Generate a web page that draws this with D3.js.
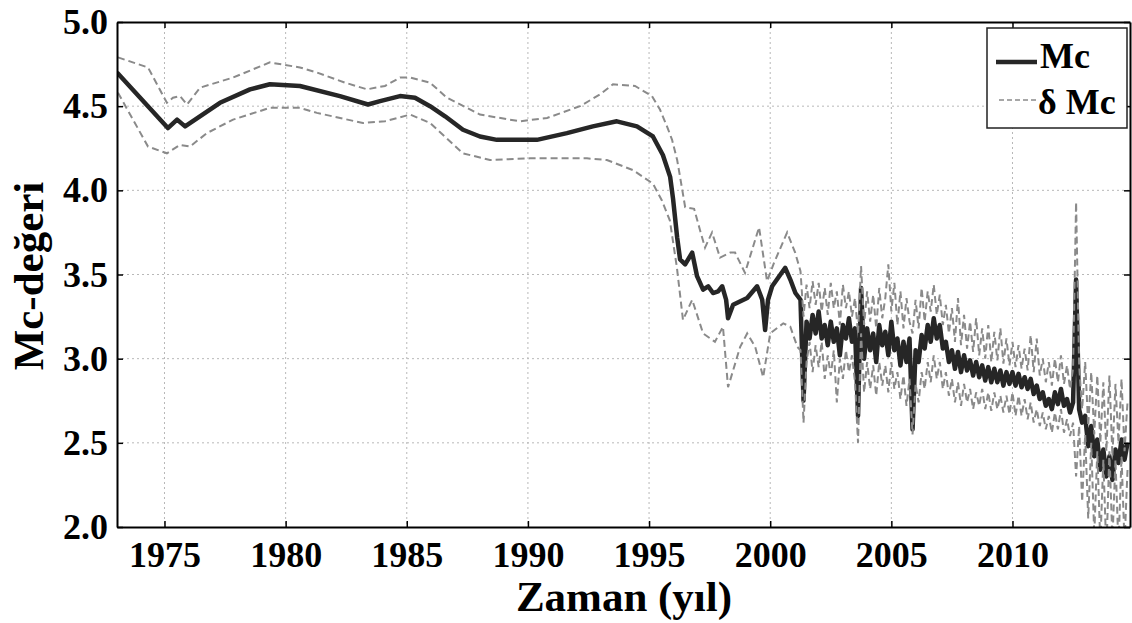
<!DOCTYPE html>
<html><head><meta charset="utf-8">
<script src="https://cdn.jsdelivr.net/npm/d3@7"></script>
<style>
body{margin:0;background:#fff}
svg{display:block}
text{font-family:"Liberation Serif","Times New Roman",serif;font-weight:bold;fill:#000}
</style>
</head><body>
<svg id="chart" width="1132" height="623"></svg>
<script>
// ---------- data ----------
const xTicks = [1975, 1980, 1985, 1990, 1995, 2000, 2005, 2010];
const yTicks = [2.0, 2.5, 3.0, 3.5, 4.0, 4.5, 5.0];
const seriesNames = ["Mc", "δ Mc"];

// Mc (smooth part, up to 2001)
const mcYears = [1973.04,1975.14,1975.52,1975.85,1977.29,1978.53,1979.35,1980.59,1982.24,1983.40,1983.90,1984.72,1985.34,1985.96,1986.58,1987.32,1988.02,1988.72,1990.37,1991.61,1992.68,1993.67,1994.50,1995.16,1995.57,1995.87,1995.99,1996.16,1996.28,1996.49,1996.78,1996.98,1997.23,1997.44,1997.64,1997.85,1998.02,1998.18,1998.26,1998.47,1999.05,1999.46,1999.67,1999.79,1999.91,2000.08,2000.62,2000.83,2001.04];
const mcValues = [4.70,4.37,4.42,4.38,4.52,4.60,4.63,4.62,4.56,4.51,4.53,4.56,4.55,4.50,4.44,4.36,4.32,4.30,4.30,4.34,4.38,4.41,4.38,4.32,4.21,4.08,3.95,3.72,3.59,3.56,3.63,3.49,3.41,3.43,3.39,3.40,3.43,3.35,3.24,3.32,3.36,3.43,3.35,3.17,3.35,3.43,3.54,3.47,3.39];

// Mc + δMc (smooth part)
const upperYears = [1973.08,1974.32,1975.10,1975.35,1975.64,1975.93,1976.47,1977.83,1979.35,1980.59,1981.29,1982.45,1983.36,1984.10,1984.72,1985.14,1985.96,1986.66,1988.02,1989.67,1990.79,1992.15,1992.98,1993.51,1994.42,1995.12,1995.45,1995.74,1995.95,1996.16,1996.28,1996.49,1996.86,1997.11,1997.31,1997.60,1997.93,1998.35,1998.55,1998.96,1999.54,1999.87,2000.16,2000.70,2001.03];
const upperValues = [4.79,4.73,4.52,4.55,4.56,4.51,4.61,4.67,4.76,4.73,4.70,4.64,4.60,4.62,4.67,4.67,4.64,4.55,4.45,4.41,4.43,4.50,4.57,4.63,4.62,4.56,4.48,4.38,4.30,4.18,4.08,3.90,3.89,3.76,3.66,3.75,3.60,3.63,3.63,3.51,3.78,3.46,3.57,3.75,3.63];

// Mc - δMc (smooth part)
const lowerYears = [1973.08,1973.70,1974.32,1975.10,1975.64,1976.05,1976.75,1977.83,1979.35,1980.59,1981.29,1983.19,1984.10,1985.14,1985.96,1987.32,1988.43,1990.08,1992.44,1993.26,1994.34,1995.16,1995.53,1995.86,1996.15,1996.40,1996.78,1997.23,1997.72,1998.05,1998.26,1998.76,1999.05,1999.38,1999.71,2000.00,2000.54,2000.83,2001.12];
const lowerValues = [4.58,4.42,4.26,4.22,4.27,4.26,4.34,4.42,4.49,4.49,4.46,4.40,4.41,4.45,4.40,4.22,4.18,4.19,4.19,4.18,4.12,4.04,3.94,3.82,3.54,3.23,3.35,3.15,3.10,3.19,2.83,3.07,3.15,3.07,2.89,3.15,3.21,3.19,3.07];

// noisy part, sampled every 0.125 yr from 2001.25
const noiseStart = 2001.25, noiseStep = 0.125;
const noiseMc = [
3.35,2.75,3.22,3.12,3.26,3.15,3.28,3.12,3.20,3.08,
3.22,3.10,3.18,3.02,3.20,3.12,3.24,3.10,3.18,2.66,
3.42,3.00,3.18,3.05,3.15,2.98,3.20,3.08,3.16,3.02,
3.22,3.05,3.12,2.96,3.10,2.98,3.12,2.58,3.05,2.98,
3.14,3.06,3.20,3.10,3.24,3.12,3.20,3.06,3.10,2.98,
3.05,2.94,3.04,2.92,3.02,2.93,2.99,2.90,2.98,2.89,
2.96,2.87,2.95,2.86,2.94,2.86,2.93,2.84,2.92,2.85,
2.92,2.84,2.91,2.83,2.89,2.82,2.88,2.79,2.84,2.76,
2.80,2.72,2.76,2.70,2.80,2.73,2.82,2.72,2.76,2.68,
2.74,3.47,2.70,2.62,2.66,2.48,2.60,2.42,2.52,2.34,
2.46,2.30,2.42,2.28,2.46,2.38,2.52,2.40,2.50];
const noiseUpper = [
3.52,3.25,3.44,3.30,3.46,3.32,3.45,3.28,3.42,3.26,
3.45,3.30,3.40,3.20,3.44,3.30,3.40,3.25,3.36,3.15,
3.55,3.20,3.40,3.22,3.38,3.18,3.42,3.24,3.36,3.56,
3.28,3.45,3.20,3.40,3.18,3.36,3.22,3.15,3.35,3.18,
3.42,3.22,3.40,3.28,3.44,3.26,3.38,3.20,3.32,3.15,
3.30,3.10,3.36,3.08,3.26,3.06,3.22,3.04,3.24,3.02,
3.18,3.00,3.20,2.98,3.16,2.99,3.18,2.97,3.12,2.96,
3.10,2.95,3.08,2.94,3.06,2.93,3.14,2.92,3.12,2.90,
3.00,2.86,2.98,2.84,3.00,2.86,3.02,2.85,2.96,2.82,
2.94,3.93,2.96,2.70,2.98,2.60,2.92,2.55,2.90,2.50,
2.86,2.45,2.90,2.42,2.85,2.50,2.88,2.45,2.75];
const noiseLower = [
3.05,2.62,2.98,3.10,2.92,3.08,2.95,3.10,2.88,3.02,
2.90,3.05,2.74,3.00,2.88,3.05,2.92,3.02,2.86,2.50,
3.15,2.80,2.98,2.82,2.96,2.78,2.98,2.84,2.96,2.80,
2.98,2.82,2.92,2.76,2.90,2.72,2.88,2.55,2.85,2.74,
2.92,2.82,2.98,2.86,3.02,2.88,2.98,2.82,2.92,2.78,
2.88,2.74,2.86,2.72,2.85,2.74,2.82,2.70,2.80,2.72,
2.82,2.70,2.80,2.69,2.80,2.70,2.78,2.68,2.78,2.67,
2.80,2.66,2.78,2.66,2.76,2.64,2.74,2.62,2.70,2.60,
2.68,2.58,2.66,2.56,2.68,2.58,2.70,2.56,2.64,2.54,
2.62,2.30,2.60,2.15,2.55,2.05,2.50,1.95,2.45,1.90,
2.40,1.85,2.45,1.92,2.40,1.88,2.42,1.90,2.35];

// ---------- build series ----------
const noiseYears = noiseMc.map((_, i) => noiseStart + i * noiseStep);
const join = (ys, vs, nv) => ys.map((y, i) => [y, vs[i]]).concat(noiseYears.map((y, i) => [y, nv[i]]));
const mcData = join(mcYears, mcValues, noiseMc);
const upData = join(upperYears, upperValues, noiseUpper);
const loData = join(lowerYears, lowerValues, noiseLower);

// ---------- layout ----------
const L = 117, R = 1130, T = 22, B = 527;
const svg = d3.select("#chart");
const x = d3.scaleLinear().domain([1973.04, 2014.85]).range([L, R]);
const y = d3.scaleLinear().domain([2, 5]).range([B, T]);

svg.append("rect").attr("width", 1132).attr("height", 623).attr("fill", "#fff");

// grid
const grid = svg.append("g").attr("stroke", "#b8b8b8").attr("stroke-width", 1).attr("stroke-dasharray", "2,3");
grid.selectAll("line.gx").data(xTicks).join("line")
  .attr("x1", d => x(d)).attr("x2", d => x(d)).attr("y1", T).attr("y2", B);
grid.selectAll("line.gy").data(yTicks.filter(v => v > 2 && v < 5)).join("line")
  .attr("y1", d => y(d)).attr("y2", d => y(d)).attr("x1", L).attr("x2", R);

svg.append("defs").append("clipPath").attr("id", "clip")
  .append("rect").attr("x", L).attr("y", T).attr("width", R - L).attr("height", B - T);

const line = d3.line().x(d => x(d[0])).y(d => y(d[1]));
const plot = svg.append("g").attr("clip-path", "url(#clip)");
plot.append("path").datum(mcData).attr("d", line)
  .attr("fill", "none").attr("stroke", "#262626").attr("stroke-width", 4.5).attr("stroke-linejoin", "round");
[upData, loData].forEach(dd => {
  plot.append("path").datum(dd).attr("d", line)
    .attr("fill", "none").attr("stroke", "#8a8a8a").attr("stroke-width", 2)
    .attr("stroke-dasharray", "7,4");
});

// axes
const axB = svg.append("g").attr("transform", `translate(0,${B})`)
  .call(d3.axisBottom(x).tickValues(xTicks).tickFormat(d3.format("d")).tickSizeInner(-6).tickSizeOuter(0).tickPadding(14));
const axL = svg.append("g").attr("transform", `translate(${L},0)`)
  .call(d3.axisLeft(y).tickValues(yTicks).tickFormat(d3.format(".1f")).tickSizeInner(-6).tickSizeOuter(0).tickPadding(9));
const axT = svg.append("g").attr("transform", `translate(0,${T})`)
  .call(d3.axisTop(x).tickValues(xTicks).tickFormat("").tickSizeInner(-6).tickSizeOuter(0));
const axR = svg.append("g").attr("transform", `translate(${R},0)`)
  .call(d3.axisRight(y).tickValues(yTicks).tickFormat("").tickSizeInner(-6).tickSizeOuter(0));
[axB, axL, axT, axR].forEach(a => {
  a.select(".domain").attr("stroke", "#000").attr("stroke-width", 2);
  a.selectAll(".tick line").attr("stroke", "#000").attr("stroke-width", 1.5);
});
axB.selectAll("text").attr("font-size", 36).attr("font-family", null).attr("fill", "#000").attr("dy", "0.71em");
axL.selectAll("text").attr("font-size", 36).attr("font-family", null).attr("fill", "#000");

// axis titles
svg.append("text").attr("x", 624).attr("y", 611).attr("text-anchor", "middle")
  .attr("font-size", 43).text("Zaman (yıl)");
svg.append("text").attr("transform", "translate(43,276) rotate(-90)").attr("text-anchor", "middle")
  .attr("font-size", 43).text("Mc-değeri");

// legend
const lg = svg.append("g");
lg.append("rect").attr("x", 987).attr("y", 28).attr("width", 140).attr("height", 100)
  .attr("fill", "#fff").attr("stroke", "#222").attr("stroke-width", 1.5);
lg.append("line").attr("x1", 996).attr("x2", 1037).attr("y1", 62).attr("y2", 62)
  .attr("stroke", "#262626").attr("stroke-width", 4.5);
lg.append("line").attr("x1", 999).attr("x2", 1037).attr("y1", 100).attr("y2", 100)
  .attr("stroke", "#8a8a8a").attr("stroke-width", 1.5).attr("stroke-dasharray", "5,3");
lg.append("text").attr("x", 1040).attr("y", 68).attr("font-size", 36).text(seriesNames[0]);
lg.append("text").attr("x", 1038).attr("y", 114).attr("font-size", 36).text(seriesNames[1]);
</script>
</body></html>
